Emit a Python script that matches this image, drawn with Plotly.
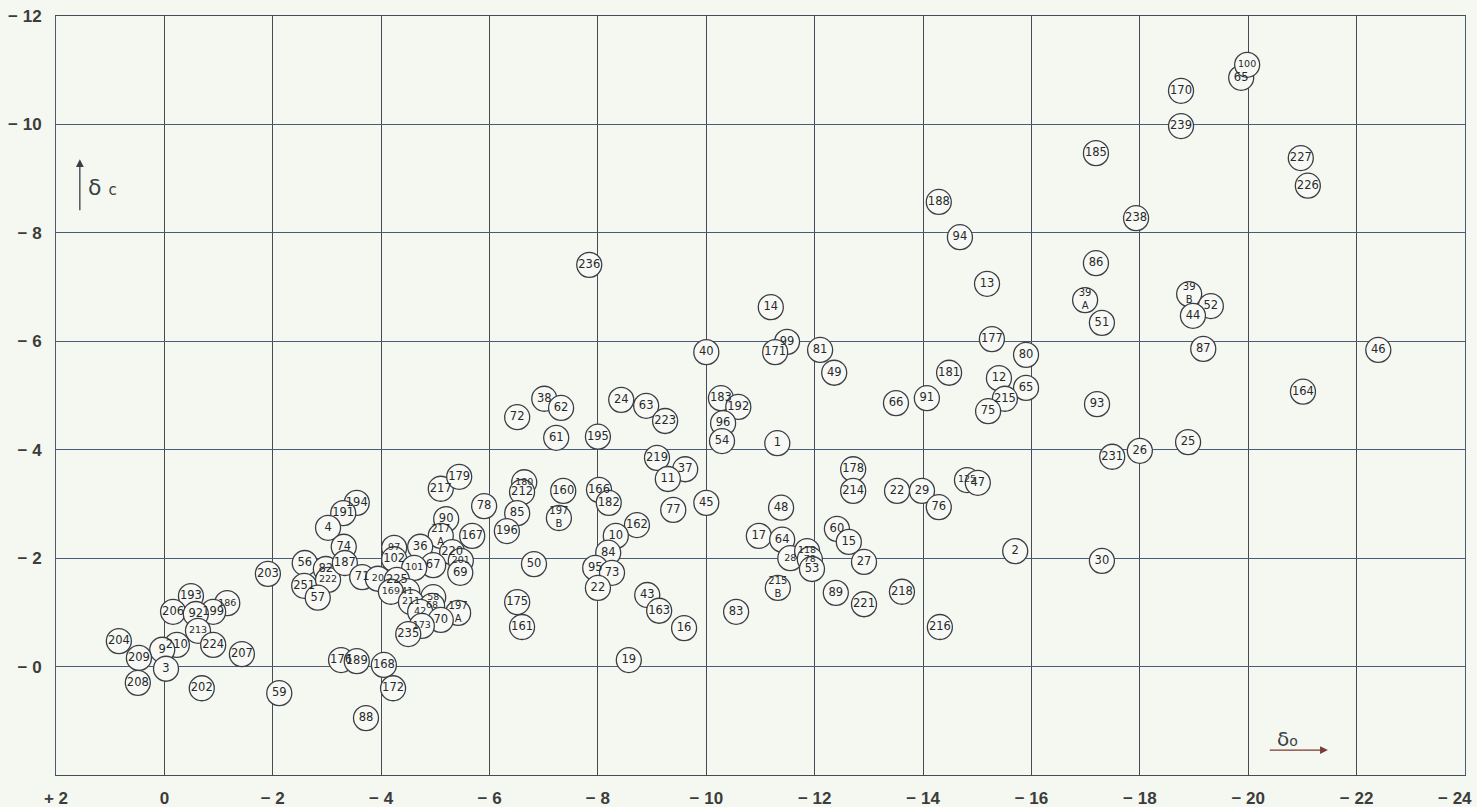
import plotly.graph_objects as go

# Identifiers of the plotted objects (letters on a second line mark sub-cases)
labels = [
    "203", "56", "82", "251", "222", "57", "193", "186", "206", "199", "92",
    "213", "224", "210", "204", "9", "209", "207", "3", "208", "202", "59",
    "194", "191", "4", "217", "78", "179", "90", "167", "217<br>A", "74", "36",
    "97", "102", "220", "187", "201", "67", "101", "71", "20", "225", "69",
    "41", "169", "58", "211", "68", "197<br>A", "42", "70", "173", "235",
    "176", "189", "168", "172", "88",
    "180", "212", "160", "85", "197<br>B", "196", "50", "175", "161",
    "38", "62", "72", "24", "63", "223", "61", "195", "219", "37", "11",
    "166", "182", "77", "162", "10", "84", "95", "73", "22", "43", "163",
    "16", "19",
    "236", "14", "40", "99", "171", "183", "192", "96", "54", "1",
    "81", "49", "178", "214", "45", "48",
    "17", "64", "60", "15", "28", "118", "78", "53", "27", "215<br>B", "89",
    "221", "218", "83", "22", "29",
    "80", "181", "12", "65", "91", "215", "66", "75", "125", "47", "76", "2",
    "216", "177", "188", "94", "13",
    "65", "100", "170", "239", "185", "227", "226", "238", "86", "39<br>A",
    "51", "39<br>B", "52", "44",
    "87", "46", "164", "93", "25", "26", "231", "30",
]

# Horizontal coordinate (delta o)
delta_o = [
    -1.91, -2.59, -2.98, -2.58, -3.02, -2.83, -0.49, -1.16, -0.16, -0.90, -0.58,
    -0.62, -0.90, -0.23, 0.84, 0.04, 0.47, -1.43, -0.03, 0.49, -0.69, -2.12,
    -3.55, -3.30, -3.02, -5.10, -5.90, -5.44, -5.20, -5.68, -5.10, -3.31, -4.72,
    -4.24, -4.24, -5.31, -3.33, -5.47, -4.96, -4.61, -3.65, -3.94, -4.29, -5.46,
    -4.48, -4.18, -4.96, -4.55, -4.94, -5.42, -4.72, -5.10, -4.75, -4.50,
    -3.26, -3.55, -4.05, -4.22, -3.72,
    -6.64, -6.60, -7.36, -6.51, -7.28, -6.32, -6.82, -6.51, -6.60,
    -7.01, -7.32, -6.51, -8.43, -8.89, -9.24, -7.23, -8.00, -9.09, -9.61, -9.29,
    -8.02, -8.20, -9.39, -8.72, -8.33, -8.19, -7.95, -8.26, -8.00, -8.91, -9.13,
    -9.59, -8.57,
    -7.84, -11.19, -10.00, -11.49, -11.27, -10.27, -10.59, -10.31, -10.29, -11.31,
    -12.10, -12.36, -12.71, -12.71, -10.00, -11.38,
    -10.97, -11.40, -12.41, -12.63, -11.55, -11.86, -11.91, -11.95, -12.91, -11.32, -12.39,
    -12.91, -13.61, -10.55, -13.52, -13.98,
    -15.90, -14.48, -15.40, -15.90, -14.07, -15.51, -13.50, -15.20, -14.81, -15.01, -14.29, -15.70,
    -14.31, -15.27, -14.29, -14.68, -15.18,
    -19.87, -19.98, -18.76, -18.76, -17.19, -20.97, -21.10, -17.93, -17.19, -16.99,
    -17.30, -18.91, -19.31, -18.98,
    -19.17, -22.40, -21.01, -17.21, -18.89, -18.00, -17.49, -17.30,
]

# Vertical coordinate (delta c)
delta_c = [
    -1.71, -1.91, -1.80, -1.49, -1.60, -1.27, -1.30, -1.17, -1.01, -1.01, -0.97,
    -0.66, -0.40, -0.40, -0.47, -0.31, -0.16, -0.23, 0.04, 0.30, 0.40, 0.49,
    -3.02, -2.83, -2.56, -3.28, -2.96, -3.50, -2.72, -2.41, -2.41, -2.21, -2.21,
    -2.19, -1.98, -2.11, -1.91, -1.95, -1.87, -1.82, -1.65, -1.62, -1.60, -1.73,
    -1.39, -1.38, -1.28, -1.19, -1.12, -0.99, -1.01, -0.86, -0.75, -0.60,
    -0.12, -0.10, -0.03, 0.40, 0.95,
    -3.40, -3.22, -3.24, -2.83, -2.74, -2.50, -1.89, -1.19, -0.73,
    -4.94, -4.77, -4.60, -4.92, -4.81, -4.53, -4.22, -4.24, -3.85, -3.64, -3.46,
    -3.26, -3.02, -2.89, -2.61, -2.41, -2.10, -1.82, -1.73, -1.45, -1.32, -1.03,
    -0.71, -0.12,
    -7.41, -6.63, -5.80, -5.99, -5.80, -4.95, -4.79, -4.49, -4.16, -4.12,
    -5.84, -5.42, -3.64, -3.24, -3.02, -2.93,
    -2.41, -2.34, -2.54, -2.30, -2.00, -2.13, -1.98, -1.80, -1.93, -1.45, -1.36,
    -1.15, -1.38, -1.01, -3.24, -3.24,
    -5.75, -5.42, -5.32, -5.14, -4.95, -4.94, -4.86, -4.71, -3.44, -3.39, -2.94, -2.13,
    -0.73, -6.04, -8.57, -7.92, -7.06,
    -10.86, -11.10, -10.62, -9.97, -9.47, -9.38, -8.87, -8.27, -7.44, -6.76,
    -6.34, -6.87, -6.65, -6.47,
    -5.86, -5.84, -5.07, -4.84, -4.14, -3.98, -3.87, -1.95,
]

# Tick marks on both axes
x_ticks = [2, 0, -2, -4, -6, -8, -10, -12, -14, -16, -18, -20, -22, -24]
x_tick_text = ["+ 2", "0", "− 2", "− 4", "− 6", "− 8", "− 10", "− 12",
               "− 14", "− 16", "− 18", "− 20", "− 22", "− 24"]
y_ticks = [0, -2, -4, -6, -8, -10, -12]
y_tick_text = ["− 0", "− 2", "− 4", "− 6", "− 8", "− 10", "− 12"]

# Crowded labels use a smaller type size
small = {"186", "97", "201", "28", "118", "20", "41", "211", "58", "68",
         "169", "101", "222", "100", "180", "173", "42", "213", "125"}

BG = "#f5f7f1"
INK = "#3a3f45"

sizes = []
for i, lab in enumerate(labels):
    if "<br>" in lab:
        sizes.append(10)
    elif lab in small or (lab == "78" and delta_o[i] < -10):
        sizes.append(9.5)
    else:
        sizes.append(11.5)

fig = go.Figure()
fig.add_trace(go.Scatter(
    x=delta_o, y=delta_c, mode="markers+text",
    text=labels, textposition="middle center",
    textfont=dict(family="DejaVu Sans", size=sizes, color="#26292d"),
    marker=dict(size=25, color="#f8f9f4", line=dict(color=INK, width=1.3)),
    hoverinfo="skip", showlegend=False, cliponaxis=False,
))

tick_font = dict(family="Liberation Sans", size=17, color="#3c3c3c", weight="bold")

# The last x label sits at the right edge of the page, so it is right-aligned
# as an annotation instead of a centred tick label.
fig.update_xaxes(
    range=[2, -24], tickvals=x_ticks[:-1], ticktext=x_tick_text[:-1],
    showgrid=True, gridcolor="#454c55", gridwidth=1, zeroline=False,
    showline=True, linecolor="#454c55", linewidth=1, mirror=True,
    ticks="", ticklabelstandoff=8, automargin=False,
    ticklabeloverflow="allow", tickfont=tick_font,
)
fig.add_annotation(x=x_ticks[-1], y=0, xref="x", yref="paper",
                   text=x_tick_text[-1], showarrow=False,
                   xanchor="right", yanchor="middle", xshift=9, yshift=-23,
                   font=tick_font)
fig.update_yaxes(
    range=[2, -12], tickvals=y_ticks, ticktext=y_tick_text,
    showgrid=True, gridcolor="#4c5b74", gridwidth=1, zeroline=False,
    showline=True, linecolor="#4c5b74", linewidth=1, mirror=True,
    ticks="", ticklabelstandoff=10, automargin=False,
    ticklabeloverflow="allow", tickfont=tick_font,
)

# Axis symbols with direction arrows
fig.add_annotation(x=1.56, y=-9.36, ax=1.56, ay=-8.39, xref="x", yref="y",
                   axref="x", ayref="y", text="", showarrow=True,
                   arrowhead=2, arrowsize=1.2, arrowwidth=1.3, arrowcolor="#3a3f45")
fig.add_annotation(x=1.14, y=-8.83, xref="x", yref="y", showarrow=False,
                   text="δ <span style='font-size:15px'>c</span>",
                   font=dict(family="DejaVu Sans", size=22, color="#3a3f45"))
fig.add_annotation(x=-21.47, y=1.54, ax=-20.37, ay=1.54, xref="x", yref="y",
                   axref="x", ayref="y", text="", showarrow=True,
                   arrowhead=2, arrowsize=1.2, arrowwidth=1.3, arrowcolor="#7a3b32")
fig.add_annotation(x=-20.72, y=1.33, xref="x", yref="y", showarrow=False,
                   text="δ<span style='font-size:14px'>o</span>",
                   font=dict(family="DejaVu Sans", size=20, color="#3a3f45"))

fig.update_layout(
    width=1477, height=807,
    margin=dict(l=56, r=12, t=16, b=32),
    paper_bgcolor=BG, plot_bgcolor=BG,
)

fig.write_html("out.html")
